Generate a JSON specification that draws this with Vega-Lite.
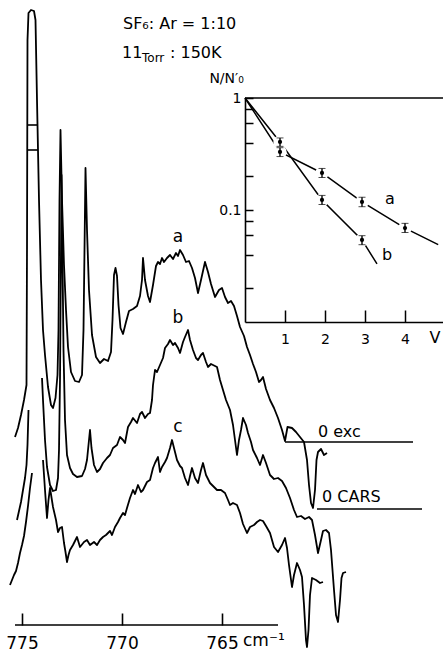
{
  "$schema": "https://vega.github.io/schema/vega-lite/v6.json",
  "width": 443,
  "height": 651,
  "padding": 0,
  "autosize": {"type": "none"},
  "background": "white",
  "config": {"view": {"stroke": null}, "font": "DejaVu Sans", "text": {"font": "DejaVu Sans", "color": "black"}},
  "datasets": {
    "spectra": [
      {"c":"a","w":775.35,"I":21.4},{"c":"a","w":775.2,"I":22.3},{"c":"a","w":775.05,"I":23.6},{"c":"a","w":774.9,"I":25.1},{"c":"a","w":774.775,"I":26.6},{"c":"a","w":774.75,"I":40.1},{"c":"a","w":774.725,"I":61.1},{"c":"a","w":774.675,"I":63.8},{"c":"a","w":774.55,"I":64.1},{"c":"a","w":774.4,"I":64.0},{"c":"a","w":774.325,"I":63.1},{"c":"a","w":774.25,"I":55.1},{"c":"a","w":774.15,"I":45.1},{"c":"a","w":774.05,"I":37.1},{"c":"a","w":773.95,"I":32.1},{"c":"a","w":773.85,"I":29.6},{"c":"a","w":773.7,"I":26.4},{"c":"a","w":773.55,"I":24.6},{"c":"a","w":773.45,"I":24.3},{"c":"a","w":773.325,"I":25.3},{"c":"a","w":773.225,"I":27.6},{"c":"a","w":773.175,"I":32.1},{"c":"a","w":773.125,"I":45.1},{"c":"a","w":773.075,"I":52.1},{"c":"a","w":773.0,"I":45.1},{"c":"a","w":772.9,"I":38.6},{"c":"a","w":772.8,"I":34.1},{"c":"a","w":772.7,"I":30.4},{"c":"a","w":772.55,"I":27.9},{"c":"a","w":772.35,"I":27.0},{"c":"a","w":772.15,"I":26.9},{"c":"a","w":772.0,"I":27.6},{"c":"a","w":771.925,"I":32.1},{"c":"a","w":771.875,"I":40.1},{"c":"a","w":771.825,"I":48.3},{"c":"a","w":771.75,"I":42.1},{"c":"a","w":771.65,"I":36.1},{"c":"a","w":771.5,"I":31.6},{"c":"a","w":771.3,"I":29.4},{"c":"a","w":771.1,"I":28.8},{"c":"a","w":770.9,"I":29.2},{"c":"a","w":770.7,"I":29.0},{"c":"a","w":770.55,"I":29.9},{"c":"a","w":770.475,"I":33.1},{"c":"a","w":770.4,"I":37.6},{"c":"a","w":770.325,"I":38.3},{"c":"a","w":770.25,"I":37.5},{"c":"a","w":770.175,"I":34.6},{"c":"a","w":770.075,"I":32.3},{"c":"a","w":769.95,"I":31.7},{"c":"a","w":769.8,"I":32.9},{"c":"a","w":769.65,"I":34.0},{"c":"a","w":769.45,"I":34.2},{"c":"a","w":769.25,"I":34.5},{"c":"a","w":769.1,"I":35.5},{"c":"a","w":769.0,"I":37.1},{"c":"a","w":768.95,"I":39.3},{"c":"a","w":768.85,"I":37.1},{"c":"a","w":768.7,"I":35.5},{"c":"a","w":768.6,"I":34.9},{"c":"a","w":768.45,"I":36.6},{"c":"a","w":768.3,"I":38.5},{"c":"a","w":768.2,"I":38.9},{"c":"a","w":768.1,"I":38.7},{"c":"a","w":768.0,"I":39.3},{"c":"a","w":767.9,"I":38.9},{"c":"a","w":767.75,"I":39.3},{"c":"a","w":767.6,"I":39.6},{"c":"a","w":767.45,"I":39.2},{"c":"a","w":767.3,"I":39.8},{"c":"a","w":767.2,"I":39.5},{"c":"a","w":767.1,"I":40.1},{"c":"a","w":766.95,"I":39.6},{"c":"a","w":766.8,"I":38.9},{"c":"a","w":766.65,"I":39.0},{"c":"a","w":766.5,"I":38.3},{"c":"a","w":766.35,"I":37.3},{"c":"a","w":766.2,"I":35.8},{"c":"a","w":766.05,"I":37.1},{"c":"a","w":765.85,"I":38.9},{"c":"a","w":765.7,"I":37.9},{"c":"a","w":765.55,"I":36.7},{"c":"a","w":765.35,"I":35.4},{"c":"a","w":765.15,"I":36.1},{"c":"a","w":765.0,"I":36.3},{"c":"a","w":764.85,"I":35.4},{"c":"a","w":764.7,"I":34.8},{"c":"a","w":764.55,"I":35.0},{"c":"a","w":764.4,"I":34.5},{"c":"a","w":764.25,"I":33.5},{"c":"a","w":764.1,"I":32.4},{"c":"a","w":763.9,"I":31.5},{"c":"a","w":763.75,"I":30.4},{"c":"a","w":763.6,"I":29.6},{"c":"a","w":763.45,"I":28.7},{"c":"a","w":763.3,"I":27.9},{"c":"a","w":763.15,"I":26.9},{"c":"a","w":763.05,"I":27.1},{"c":"a","w":762.95,"I":27.4},{"c":"a","w":762.8,"I":26.2},{"c":"a","w":762.6,"I":25.1},{"c":"a","w":762.4,"I":24.3},{"c":"a","w":762.2,"I":23.3},{"c":"a","w":762.0,"I":22.1},{"c":"a","w":761.85,"I":21.0},{"c":"a","w":761.725,"I":22.4},{"c":"a","w":761.5,"I":22.3},{"c":"a","w":761.3,"I":21.9},{"c":"a","w":761.1,"I":21.4},{"c":"a","w":760.9,"I":20.9},{"c":"a","w":760.75,"I":19.1},{"c":"a","w":760.65,"I":16.6},{"c":"a","w":760.55,"I":14.8},{"c":"a","w":760.45,"I":14.3},{"c":"a","w":760.35,"I":16.1},{"c":"a","w":760.275,"I":19.1},{"c":"a","w":760.2,"I":19.9},{"c":"a","w":760.05,"I":20.2},{"c":"a","w":759.9,"I":19.6},{"c":"a","w":759.75,"I":19.8},
      {"c":"b1","w":775.25,"I":13.1},{"c":"b1","w":775.15,"I":14.0},{"c":"b1","w":775.05,"I":14.9},{"c":"b1","w":774.95,"I":16.1},{"c":"b1","w":774.85,"I":17.3},{"c":"b1","w":774.775,"I":18.6},{"c":"b1","w":774.725,"I":20.6},{"c":"b1","w":774.675,"I":24.1},
      {"c":"b2","w":774.0,"I":27.3},{"c":"b2","w":773.95,"I":25.1},{"c":"b2","w":773.85,"I":21.1},{"c":"b2","w":773.75,"I":18.4},{"c":"b2","w":773.6,"I":16.6},{"c":"b2","w":773.45,"I":16.0},{"c":"b2","w":773.3,"I":16.1},{"c":"b2","w":773.2,"I":17.3},{"c":"b2","w":773.15,"I":20.1},{"c":"b2","w":773.1,"I":27.1},{"c":"b2","w":773.05,"I":40.1},{"c":"b2","w":773.025,"I":47.6},{"c":"b2","w":772.975,"I":39.1},{"c":"b2","w":772.925,"I":30.1},{"c":"b2","w":772.85,"I":23.1},{"c":"b2","w":772.75,"I":19.6},{"c":"b2","w":772.6,"I":18.3},{"c":"b2","w":772.45,"I":17.7},{"c":"b2","w":772.25,"I":17.4},{"c":"b2","w":772.0,"I":17.5},{"c":"b2","w":771.85,"I":18.2},{"c":"b2","w":771.75,"I":19.1},{"c":"b2","w":771.675,"I":20.6},{"c":"b2","w":771.6,"I":22.1},{"c":"b2","w":771.525,"I":20.3},{"c":"b2","w":771.4,"I":18.6},{"c":"b2","w":771.25,"I":17.9},{"c":"b2","w":771.1,"I":18.2},{"c":"b2","w":770.95,"I":18.8},{"c":"b2","w":770.75,"I":19.3},{"c":"b2","w":770.6,"I":19.6},{"c":"b2","w":770.45,"I":20.3},{"c":"b2","w":770.25,"I":20.6},{"c":"b2","w":770.1,"I":21.4},{"c":"b2","w":769.95,"I":21.1},{"c":"b2","w":769.85,"I":20.8},{"c":"b2","w":769.7,"I":22.4},{"c":"b2","w":769.55,"I":22.9},{"c":"b2","w":769.45,"I":23.3},{"c":"b2","w":769.25,"I":22.8},{"c":"b2","w":769.1,"I":23.7},{"c":"b2","w":769.0,"I":23.9},{"c":"b2","w":768.85,"I":23.3},{"c":"b2","w":768.7,"I":23.7},{"c":"b2","w":768.6,"I":23.8},{"c":"b2","w":768.5,"I":25.1},{"c":"b2","w":768.45,"I":26.6},{"c":"b2","w":768.35,"I":28.1},{"c":"b2","w":768.25,"I":27.9},{"c":"b2","w":768.1,"I":28.6},{"c":"b2","w":767.95,"I":29.3},{"c":"b2","w":767.85,"I":30.3},{"c":"b2","w":767.7,"I":30.7},{"c":"b2","w":767.6,"I":31.1},{"c":"b2","w":767.45,"I":30.6},{"c":"b2","w":767.35,"I":30.8},{"c":"b2","w":767.2,"I":30.3},{"c":"b2","w":767.1,"I":29.8},{"c":"b2","w":766.95,"I":30.9},{"c":"b2","w":766.85,"I":31.4},{"c":"b2","w":766.7,"I":32.1},{"c":"b2","w":766.6,"I":31.1},{"c":"b2","w":766.45,"I":30.1},{"c":"b2","w":766.3,"I":29.3},{"c":"b2","w":766.2,"I":29.1},{"c":"b2","w":766.05,"I":29.6},{"c":"b2","w":765.95,"I":29.8},{"c":"b2","w":765.8,"I":28.9},{"c":"b2","w":765.7,"I":28.4},{"c":"b2","w":765.55,"I":28.7},{"c":"b2","w":765.45,"I":28.6},{"c":"b2","w":765.25,"I":28.4},{"c":"b2","w":765.1,"I":27.1},{"c":"b2","w":764.95,"I":26.1},{"c":"b2","w":764.8,"I":25.1},{"c":"b2","w":764.6,"I":24.1},{"c":"b2","w":764.45,"I":22.6},{"c":"b2","w":764.35,"I":21.1},{"c":"b2","w":764.25,"I":19.6},{"c":"b2","w":764.15,"I":21.1},{"c":"b2","w":764.05,"I":22.1},{"c":"b2","w":763.95,"I":23.3},{"c":"b2","w":763.8,"I":22.6},{"c":"b2","w":763.7,"I":21.8},{"c":"b2","w":763.55,"I":20.9},{"c":"b2","w":763.45,"I":20.1},{"c":"b2","w":763.25,"I":19.3},{"c":"b2","w":763.1,"I":18.6},{"c":"b2","w":762.95,"I":19.6},{"c":"b2","w":762.8,"I":18.8},{"c":"b2","w":762.6,"I":17.6},{"c":"b2","w":762.4,"I":17.2},{"c":"b2","w":762.2,"I":17.3},{"c":"b2","w":762.0,"I":17.0},{"c":"b2","w":761.8,"I":16.3},{"c":"b2","w":761.6,"I":15.3},{"c":"b2","w":761.4,"I":14.1},{"c":"b2","w":761.25,"I":13.4},{"c":"b2","w":761.05,"I":13.5},{"c":"b2","w":760.85,"I":13.2},{"c":"b2","w":760.65,"I":13.4},{"c":"b2","w":760.5,"I":13.1},{"c":"b2","w":760.35,"I":11.6},{"c":"b2","w":760.2,"I":9.8},{"c":"b2","w":760.05,"I":11.1},{"c":"b2","w":759.95,"I":12.0},{"c":"b2","w":759.8,"I":12.1},{"c":"b2","w":759.65,"I":11.8},{"c":"b2","w":759.55,"I":10.1},{"c":"b2","w":759.4,"I":6.1},{"c":"b2","w":759.3,"I":3.6},{"c":"b2","w":759.2,"I":2.9},{"c":"b2","w":759.1,"I":5.1},{"c":"b2","w":759.025,"I":7.3},{"c":"b2","w":758.95,"I":7.8},{"c":"b2","w":758.8,"I":7.9},
      {"c":"c1","w":775.6,"I":6.6},{"c":"c1","w":775.5,"I":7.1},{"c":"c1","w":775.4,"I":7.6},{"c":"c1","w":775.3,"I":8.0},{"c":"c1","w":775.2,"I":8.8},{"c":"c1","w":775.1,"I":9.8},{"c":"c1","w":775.0,"I":10.6},{"c":"c1","w":774.9,"I":11.5},{"c":"c1","w":774.8,"I":12.9},{"c":"c1","w":774.7,"I":14.5},{"c":"c1","w":774.6,"I":16.3},{"c":"c1","w":774.5,"I":17.8},
      {"c":"c2","w":773.95,"I":19.1},{"c":"c2","w":773.85,"I":16.1},{"c":"c2","w":773.75,"I":13.3},{"c":"c2","w":773.675,"I":15.1},{"c":"c2","w":773.6,"I":16.3},{"c":"c2","w":773.45,"I":14.4},{"c":"c2","w":773.3,"I":13.1},{"c":"c2","w":773.2,"I":11.9},{"c":"c2","w":773.1,"I":12.3},{"c":"c2","w":773.0,"I":12.4},{"c":"c2","w":772.9,"I":10.8},{"c":"c2","w":772.825,"I":9.9},{"c":"c2","w":772.75,"I":8.9},{"c":"c2","w":772.675,"I":9.6},{"c":"c2","w":772.6,"I":10.1},{"c":"c2","w":772.45,"I":10.6},{"c":"c2","w":772.35,"I":11.0},{"c":"c2","w":772.25,"I":11.4},{"c":"c2","w":772.1,"I":10.4},{"c":"c2","w":771.9,"I":10.9},{"c":"c2","w":771.75,"I":11.1},{"c":"c2","w":771.6,"I":10.6},{"c":"c2","w":771.4,"I":10.9},{"c":"c2","w":771.25,"I":10.6},{"c":"c2","w":771.1,"I":11.1},{"c":"c2","w":770.95,"I":11.4},{"c":"c2","w":770.8,"I":11.6},{"c":"c2","w":770.6,"I":12.0},{"c":"c2","w":770.5,"I":11.6},{"c":"c2","w":770.35,"I":12.4},{"c":"c2","w":770.2,"I":12.9},{"c":"c2","w":770.1,"I":13.3},{"c":"c2","w":769.95,"I":13.8},{"c":"c2","w":769.85,"I":13.6},{"c":"c2","w":769.75,"I":14.3},{"c":"c2","w":769.6,"I":15.3},{"c":"c2","w":769.45,"I":16.1},{"c":"c2","w":769.35,"I":15.7},{"c":"c2","w":769.2,"I":16.6},{"c":"c2","w":769.05,"I":15.9},{"c":"c2","w":768.95,"I":16.1},{"c":"c2","w":768.75,"I":16.9},{"c":"c2","w":768.6,"I":17.1},{"c":"c2","w":768.45,"I":18.3},{"c":"c2","w":768.35,"I":18.8},{"c":"c2","w":768.2,"I":19.4},{"c":"c2","w":768.1,"I":17.9},{"c":"c2","w":768.0,"I":18.4},{"c":"c2","w":767.85,"I":18.9},{"c":"c2","w":767.75,"I":19.3},{"c":"c2","w":767.6,"I":20.3},{"c":"c2","w":767.5,"I":21.1},{"c":"c2","w":767.35,"I":19.9},{"c":"c2","w":767.25,"I":19.1},{"c":"c2","w":767.1,"I":18.5},{"c":"c2","w":767.0,"I":18.3},{"c":"c2","w":766.85,"I":17.3},{"c":"c2","w":766.7,"I":16.6},{"c":"c2","w":766.6,"I":17.5},{"c":"c2","w":766.5,"I":18.3},{"c":"c2","w":766.35,"I":17.3},{"c":"c2","w":766.2,"I":16.8},{"c":"c2","w":766.05,"I":18.1},{"c":"c2","w":765.95,"I":18.8},{"c":"c2","w":765.8,"I":17.6},{"c":"c2","w":765.6,"I":16.8},{"c":"c2","w":765.4,"I":16.4},{"c":"c2","w":765.25,"I":16.1},{"c":"c2","w":765.05,"I":16.1},{"c":"c2","w":764.85,"I":15.8},{"c":"c2","w":764.7,"I":15.1},{"c":"c2","w":764.6,"I":14.6},{"c":"c2","w":764.45,"I":14.8},{"c":"c2","w":764.25,"I":14.6},{"c":"c2","w":764.1,"I":13.8},{"c":"c2","w":763.95,"I":12.7},{"c":"c2","w":763.75,"I":11.8},{"c":"c2","w":763.6,"I":12.4},{"c":"c2","w":763.4,"I":12.6},{"c":"c2","w":763.25,"I":12.9},{"c":"c2","w":763.1,"I":13.1},{"c":"c2","w":762.95,"I":13.0},{"c":"c2","w":762.8,"I":12.5},{"c":"c2","w":762.6,"I":11.8},{"c":"c2","w":762.4,"I":10.4},{"c":"c2","w":762.2,"I":9.9},{"c":"c2","w":762.0,"I":10.6},{"c":"c2","w":761.85,"I":11.3},{"c":"c2","w":761.75,"I":10.3},{"c":"c2","w":761.65,"I":8.6},{"c":"c2","w":761.5,"I":6.4},{"c":"c2","w":761.4,"I":7.6},{"c":"c2","w":761.25,"I":8.8},{"c":"c2","w":761.1,"I":8.1},{"c":"c2","w":761.0,"I":7.4},{"c":"c2","w":760.9,"I":4.6},{"c":"c2","w":760.8,"I":1.1},{"c":"c2","w":760.75,"I":0.4},{"c":"c2","w":760.675,"I":2.1},{"c":"c2","w":760.6,"I":5.6},{"c":"c2","w":760.5,"I":7.3},{"c":"c2","w":760.3,"I":7.1},{"c":"c2","w":760.1,"I":6.8},{"c":"c2","w":759.95,"I":6.9}
    ],
    "refs": [
      {"w0":761.85,"w1":755.45,"I":20.9},
      {"w0":760.25,"w1":755.0,"I":14.2},
      {"w0":775.35,"w1":762.2,"I":2.6},
      {"w0":774.75,"w1":774.225,"I":52.6},
      {"w0":774.75,"w1":774.2,"I":50.1}
    ],
    "curveLabels": [
      {"t":"a","w":767.2,"I":41.4},
      {"t":"b","w":767.2,"I":33.3},
      {"t":"c","w":767.2,"I":22.4}
    ],
    "baseLabels": [
      {"t":"0 exc","w":760.2,"I":21.9},
      {"t":"0 CARS","w":760.0,"I":15.4}
    ],
    "titles": [
      {"t":"SF₆: Ar = 1:10","w":769.95,"I":62.2},
      {"t":"11","w":770.0,"I":59.3},
      {"t":": 150K","w":767.6,"I":59.3}
    ],
    "subTitles": [
      {"t":"Torr","w":769.0,"I":58.9}
    ],
    "units": [
      {"t":"cm⁻¹","w":763.95,"I":1.0}
    ],
    "iline": [
      {"s":"a","V":0,"N":1},{"s":"a","V":0.875,"N":0.33},{"s":"a","V":1.925,"N":0.214},{"s":"a","V":2.925,"N":0.118},{"s":"a","V":4.0,"N":0.069},{"s":"a","V":4.83,"N":0.049},
      {"s":"b","V":0,"N":1},{"s":"b","V":0.875,"N":0.405},{"s":"b","V":1.925,"N":0.123},{"s":"b","V":2.925,"N":0.054},{"s":"b","V":3.3,"N":0.033}
    ],
    "ipts": [
      {"s":"a","V":0.875,"N":0.33,"lo":0.30,"hi":0.36},
      {"s":"a","V":1.925,"N":0.214,"lo":0.195,"hi":0.235},
      {"s":"a","V":2.925,"N":0.118,"lo":0.107,"hi":0.13},
      {"s":"a","V":4.0,"N":0.069,"lo":0.063,"hi":0.076},
      {"s":"b","V":0.875,"N":0.405,"lo":0.37,"hi":0.44},
      {"s":"b","V":1.925,"N":0.123,"lo":0.112,"hi":0.135},
      {"s":"b","V":2.925,"N":0.054,"lo":0.049,"hi":0.059}
    ],
    "ibox": [
      {"V0":0,"V1":4.95,"N":1}
    ],
    "itext": [
      {"t":"a","V":3.625,"N":0.125},
      {"t":"b","V":3.55,"N":0.0396},
      {"t":"V","V":4.75,"N":0.0072}
    ],
    "ititle": [
      {"t":"N/N′₀","V":-0.46,"N":1.36}
    ]
  },
  "layer": [
    {
      "layer": [
        {
          "data": {"name": "spectra"},
          "mark": {"type": "line", "color": "black", "strokeWidth": 1.8, "strokeJoin": "round"},
          "encoding": {
            "x": {"field": "w", "type": "quantitative",
                  "scale": {"domain": [753.95, 776.1], "reverse": true, "nice": false, "zero": false},
                  "axis": {"orient": "bottom", "offset": -26, "values": [775, 770, 765], "format": "d", "domain": false, "grid": false,
                           "tickSize": -12, "tickWidth": 1.6, "tickColor": "black", "labelFontSize": 17, "labelColor": "black",
                           "labelFont": "DejaVu Sans", "labelPadding": 22, "labelFlush": false, "labelOverlap": false, "title": null}},
            "y": {"field": "I", "type": "quantitative", "scale": {"domain": [0, 65.1], "nice": false, "zero": false}, "axis": null},
            "detail": {"field": "c"}
          }
        },
        {
          "data": {"name": "refs"},
          "mark": {"type": "rule", "color": "black", "strokeWidth": 1.6},
          "encoding": {
            "x": {"field": "w0", "type": "quantitative"},
            "x2": {"field": "w1"},
            "y": {"field": "I", "type": "quantitative", "axis": null}
          }
        },
        {
          "data": {"name": "curveLabels"},
          "mark": {"type": "text", "fontSize": 17, "align": "center", "baseline": "middle"},
          "encoding": {
            "x": {"field": "w", "type": "quantitative"},
            "y": {"field": "I", "type": "quantitative", "axis": null},
            "text": {"field": "t"}
          }
        },
        {
          "data": {"name": "baseLabels"},
          "mark": {"type": "text", "fontSize": 16, "align": "left", "baseline": "middle"},
          "encoding": {
            "x": {"field": "w", "type": "quantitative"},
            "y": {"field": "I", "type": "quantitative", "axis": null},
            "text": {"field": "t"}
          }
        },
        {
          "data": {"name": "titles"},
          "mark": {"type": "text", "fontSize": 16, "align": "left", "baseline": "alphabetic"},
          "encoding": {
            "x": {"field": "w", "type": "quantitative"},
            "y": {"field": "I", "type": "quantitative", "axis": null},
            "text": {"field": "t"}
          }
        },
        {
          "data": {"name": "subTitles"},
          "mark": {"type": "text", "fontSize": 12, "align": "left", "baseline": "alphabetic"},
          "encoding": {
            "x": {"field": "w", "type": "quantitative"},
            "y": {"field": "I", "type": "quantitative", "axis": null},
            "text": {"field": "t"}
          }
        },
        {
          "data": {"name": "units"},
          "mark": {"type": "text", "fontSize": 17, "align": "left", "baseline": "middle"},
          "encoding": {
            "x": {"field": "w", "type": "quantitative"},
            "y": {"field": "I", "type": "quantitative", "axis": null},
            "text": {"field": "t"}
          }
        }
      ]
    },
    {
      "layer": [
        {
          "data": {"name": "iline"},
          "mark": {"type": "line", "color": "black", "strokeWidth": 1.5},
          "encoding": {
            "x": {"field": "V", "type": "quantitative",
                  "scale": {"domain": [0, 4.95], "range": [245, 443], "nice": false, "zero": false},
                  "axis": {"orient": "bottom", "offset": -329, "values": [1, 2, 3, 4], "format": "d", "domain": true, "domainColor": "black", "domainWidth": 1.6,
                           "grid": false, "tickSize": -12, "tickWidth": 1.5, "tickColor": "black", "labelFontSize": 14, "labelColor": "black",
                           "labelFont": "DejaVu Sans", "labelPadding": 22, "labelFlush": false, "labelOverlap": false, "title": null}},
            "y": {"field": "N", "type": "quantitative",
                  "scale": {"type": "log", "domain": [0.01, 1], "range": [322, 98], "nice": false},
                  "axis": {"orient": "left", "offset": -245, "values": [1, 0.8, 0.6, 0.4, 0.2, 0.1, 0.08, 0.06, 0.04, 0.02],
                           "labelExpr": "datum.value == 1 ? '1' : (abs(datum.value - 0.1) < 0.001 ? '0.1' : '')",
                           "domain": true, "domainColor": "black", "domainWidth": 1.6, "grid": false, "tickSize": -8, "tickWidth": 1.5,
                           "tickColor": "black", "labelFontSize": 14, "labelColor": "black", "labelFont": "DejaVu Sans", "labelPadding": 12,
                           "labelFlush": false, "labelOverlap": false, "title": null}},
            "detail": {"field": "s"}
          }
        },
        {
          "data": {"name": "ipts"},
          "mark": {"type": "point", "filled": true, "color": "white", "opacity": 1, "size": 180},
          "encoding": {
            "x": {"field": "V", "type": "quantitative"},
            "y": {"field": "N", "type": "quantitative"}
          }
        },
        {
          "data": {"name": "ipts"},
          "mark": {"type": "errorbar", "color": "black", "ticks": {"size": 7, "strokeWidth": 1.4}, "rule": {"strokeWidth": 1.4}},
          "encoding": {
            "x": {"field": "V", "type": "quantitative"},
            "y": {"field": "lo", "type": "quantitative"},
            "y2": {"field": "hi"}
          }
        },
        {
          "data": {"name": "ipts"},
          "mark": {"type": "point", "filled": true, "color": "black", "opacity": 1, "size": 18},
          "encoding": {
            "x": {"field": "V", "type": "quantitative"},
            "y": {"field": "N", "type": "quantitative"}
          }
        },
        {
          "data": {"name": "ibox"},
          "mark": {"type": "rule", "color": "black", "strokeWidth": 1.6},
          "encoding": {
            "x": {"field": "V0", "type": "quantitative"},
            "x2": {"field": "V1"},
            "y": {"field": "N", "type": "quantitative"}
          }
        },
        {
          "data": {"name": "itext"},
          "mark": {"type": "text", "fontSize": 16, "align": "center", "baseline": "middle"},
          "encoding": {
            "x": {"field": "V", "type": "quantitative"},
            "y": {"field": "N", "type": "quantitative"},
            "text": {"field": "t"}
          }
        },
        {
          "data": {"name": "ititle"},
          "mark": {"type": "text", "fontSize": 14, "align": "center", "baseline": "alphabetic"},
          "encoding": {
            "x": {"field": "V", "type": "quantitative"},
            "y": {"field": "N", "type": "quantitative"},
            "text": {"field": "t"}
          }
        }
      ]
    }
  ],
  "resolve": {"scale": {"x": "independent", "y": "independent"}, "axis": {"x": "independent", "y": "independent"}}
}
